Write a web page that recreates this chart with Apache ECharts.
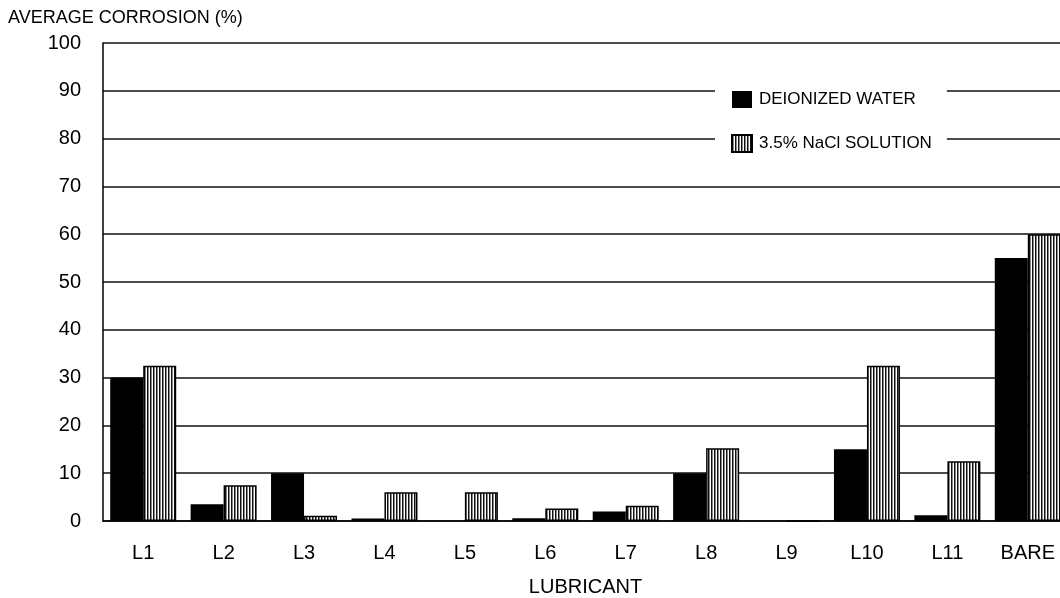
<!DOCTYPE html>
<html><head><meta charset="utf-8">
<script src="https://cdn.jsdelivr.net/npm/echarts@6/dist/echarts.min.js"></script>
<style>html,body{margin:0;padding:0;background:#fff}#c{width:1060px;height:598px}</style>
</head><body><div id="c"></div>
<script>
const categories = ['L1','L2','L3','L4','L5','L6','L7','L8','L9','L10','L11','BARE'];
const deionizedWater = [30, 3.5, 10, 0.5, 0, 0.6, 2, 10, 0, 15, 1.2, 55];
const naclSolution = [32.5, 7.5, 1.1, 6, 6, 2.6, 3.2, 15.2, 0, 32.5, 12.5, 60];
const seriesNames = ['DEIONIZED WATER', '3.5% NaCl SOLUTION'];
const yTitle = 'AVERAGE CORROSION (%)';
const xTitle = 'LUBRICANT';

const FONT = "'Liberation Sans', Arial, sans-serif";
const pc = document.createElement('canvas');
pc.width = 3; pc.height = 4;
const g = pc.getContext('2d');
g.fillStyle = '#fff'; g.fillRect(0,0,3,4);
g.fillStyle = '#111'; g.fillRect(0,0,1,4);
g.fillStyle = '#888'; g.fillRect(1,0,1,4);

const chart = echarts.init(document.getElementById('c'), null, {renderer:'canvas'});
chart.setOption({
  animation: false,
  backgroundColor: '#fff',
  grid: {left: 103, top: 43, width: 965, height: 478, containLabel: false, outerBoundsMode: 'none'},
  graphic: [{type:'text', left: 8, top: 9, style:{text: yTitle, font: "18px " + FONT, fill:'#000'}}],
  legend: {
    orient: 'vertical', left: 715, top: 82,
    backgroundColor: '#fff', padding: [9, 15, 9, 16],
    itemWidth: 20, itemHeight: 17, itemGap: 26, icon: 'rect',
    textStyle: {fontFamily: FONT, fontSize: 17, color: '#000', padding:[0,0,0,2]},
    data: seriesNames
  },
  xAxis: {
    type: 'category', data: categories,
    axisLine: {lineStyle: {color: '#000', width: 1.5}},
    axisTick: {show: false},
    axisLabel: {color: '#000', fontFamily: FONT, fontSize: 20, margin: 22},
    name: xTitle, nameLocation: 'middle', nameGap: 56,
    nameTextStyle: {color:'#000', fontFamily: FONT, fontSize: 20}
  },
  yAxis: {
    type: 'value', min: 0, max: 100, interval: 10,
    axisLine: {show: true, lineStyle: {color: '#000', width: 1.5}},
    axisTick: {show: false},
    axisLabel: {color: '#000', fontFamily: FONT, fontSize: 20, margin: 22, padding: [0,0,8,0]},
    splitLine: {lineStyle: {color: '#111', width: 1.5}}
  },
  series: [
    {name: seriesNames[0], type: 'bar', data: deionizedWater, barWidth: 33, barGap: '0%',
     itemStyle: {color: '#000', borderColor: '#000', borderWidth: 0}},
    {name: seriesNames[1], type: 'bar', data: naclSolution, barWidth: 33,
     itemStyle: {color: {image: pc, repeat: 'repeat'}, borderColor: '#000', borderWidth: 1.5}}
  ]
});
</script></body></html>
